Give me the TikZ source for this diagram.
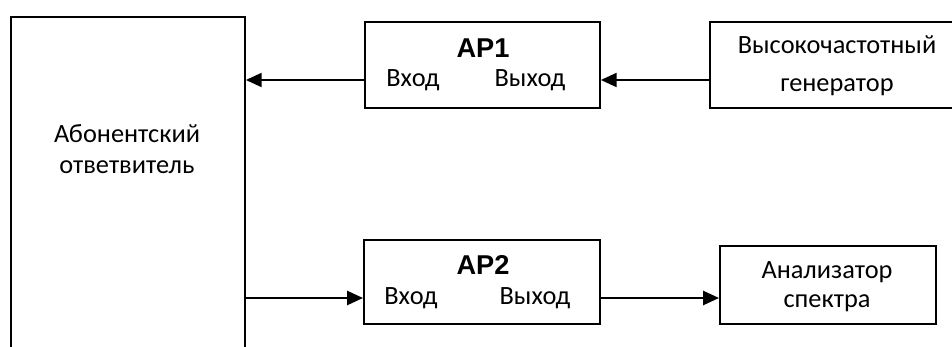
\documentclass[tikz,border=0pt]{standalone}
\usepackage{fontspec}
\setmainfont{Carlito}
\newfontfamily\arialfont{Liberation Sans}
\usetikzlibrary{arrows.meta}

\begin{document}
\begin{tikzpicture}[x=0.02cm, y=-0.02cm,
  box/.style={draw, line width=1.1pt, anchor=north west, inner sep=0pt},
  txt/.style={font=\fontsize{15}{18}\selectfont, inner sep=0pt},
  ttl/.style={font=\arialfont\bfseries\fontsize{15.5}{18}\selectfont, inner sep=0pt},
  arr/.style={line width=1.1pt, -{Triangle[length=9pt,width=8pt]}}]
\useasboundingbox (0,0) rectangle (952,347);
\clip (0,0) rectangle (952,347);

% Left block
\node[box, minimum width=4.68cm, minimum height=7.28cm] (abon) at (10,16) {};
\node[txt, align=center, font=\fontsize{15}{18}\selectfont] (abontxt) at (127,149) {Абонентский\\ответвитель};

% AP1
\node[box, minimum width=4.70cm, minimum height=1.72cm] (ap1) at (364,21) {};
\node[ttl] (ap1name) at (483,48) {АР1};
\node[txt] (ap1vx) at (413,80) {Вход};
\node[txt] (ap1vy) at (530,80) {Выход};

% Generator
\node[box, minimum width=5.12cm, minimum height=1.72cm] (gen) at (709,21) {};
\node[txt, align=center, font=\fontsize{15}{21.5}\selectfont] (gentxt) at (837,66) {Высокочастотный\\генератор};

% AP2
\node[box, minimum width=4.72cm, minimum height=1.68cm] (ap2) at (363,239) {};
\node[ttl] (ap2name) at (483,265) {АР2};
\node[txt] (ap2vx) at (411,298) {Вход};
\node[txt] (ap2vy) at (535,298) {Выход};

% Analyzer
\node[box, minimum width=4.32cm, minimum height=1.56cm] (an) at (719,245) {};
\node[txt, align=center, font=\fontsize{15}{16.5}\selectfont] (antxt) at (827,287) {Анализатор\\спектра};

% Connections
\draw[arr] (ap1vx -| ap1.west) -- (ap1vx -| abon.east);
\draw[arr] (ap1vy -| gen.west) -- (ap1vy -| ap1.east);
\draw[arr] (ap2vx -| abon.east) -- (ap2vx -| ap2.west);
\draw[arr] (ap2vy -| ap2.east) -- (ap2vy -| an.west);
\end{tikzpicture}
\end{document}
